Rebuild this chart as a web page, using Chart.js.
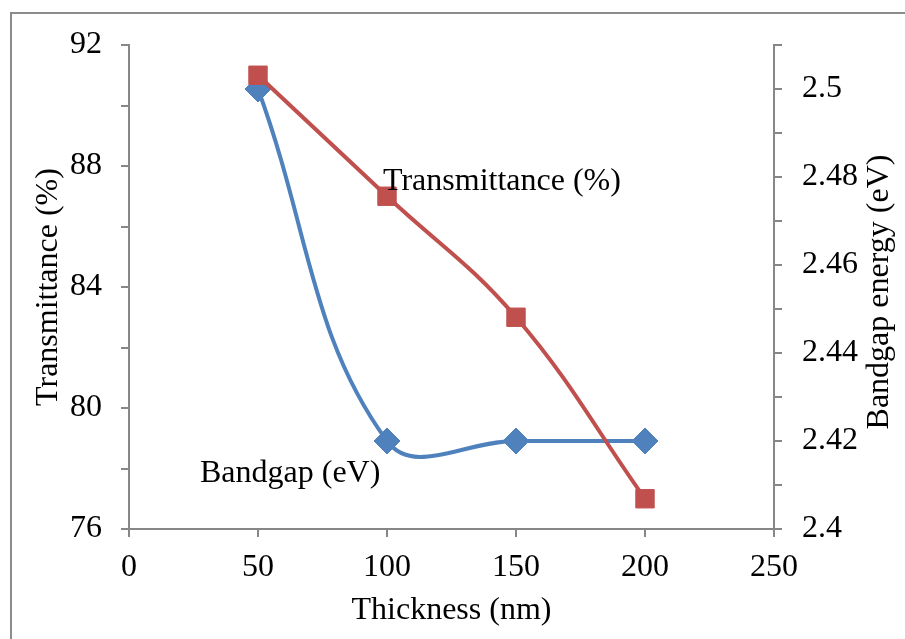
<!DOCTYPE html>
<html>
<head>
<meta charset="utf-8">
<script src="https://cdn.jsdelivr.net/npm/chart.js@4/dist/chart.umd.min.js"></script>
<style>
  html, body { margin: 0; padding: 0; background: #fff; }
  #wrap { position: absolute; left: 0; top: 0; width: 905px; height: 639px; }
</style>
</head>
<body>
<div id="wrap"><canvas id="c" width="905" height="639"></canvas></div>
<script>
// ---- data ----
const thickness = [50, 100, 150, 200];                 // nm
const transmittance = [91, 87, 83, 77];                // %
const bandgap = [2.50, 2.42, 2.42, 2.42];              // eV
const xTicks = [0, 50, 100, 150, 200, 250];
const leftTicks = [76, 80, 84, 88, 92];
const rightTicks = [2.4, 2.42, 2.44, 2.46, 2.48, 2.5];
const seriesNames = ['Transmittance (%)', 'Bandgap (eV)'];

const FONT = '"Liberation Serif", "Times New Roman", serif';
const AXIS_GREY = '#878787';

const framePlugin = {
  id: 'frame',
  beforeDraw(chart) {
    const ctx = chart.ctx;
    ctx.save();
    ctx.fillStyle = '#fff';
    ctx.fillRect(0, 0, chart.width, chart.height);
    ctx.strokeStyle = '#8c8c8c';
    ctx.lineWidth = 2;
    ctx.strokeRect(11, 13, chart.width + 20, chart.height + 20);
    ctx.restore();
  }
};

const textPlugin = {
  id: 'texts',
  afterDraw(chart) {
    const ctx = chart.ctx;
    const xs = chart.scales.x, yl = chart.scales.y, yr = chart.scales.y2;
    ctx.save();
    ctx.fillStyle = '#000';
    ctx.font = '32px ' + FONT;
    ctx.textBaseline = 'middle';
    ctx.textAlign = 'left';
    // series name labels attached near points
    const tX = xs.getPixelForValue(thickness[1]) - 4;
    const tY = yl.getPixelForValue(transmittance[1]) - 15;
    ctx.fillText(seriesNames[0], tX, tY);
    const bX = xs.getPixelForValue(thickness[1]) - 187;
    const bY = yr.getPixelForValue(bandgap[1]) + 33;
    ctx.fillText(seriesNames[1], bX, bY);
    // right axis title, reading bottom to top
    ctx.translate(880, (chart.chartArea.top + chart.chartArea.bottom) / 2 + 5);
    ctx.rotate(-Math.PI / 2);
    ctx.textAlign = 'center';
    ctx.fillText('Bandgap energy (eV)', 0, 0);
    ctx.restore();
  }
};

const gridOpts = {
  drawOnChartArea: false,
  drawTicks: true,
  tickLength: 8,
  color: AXIS_GREY,
  lineWidth: 2
};

new Chart(document.getElementById('c'), {
  type: 'line',
  data: {
    datasets: [
      {
        label: seriesNames[0],
        data: thickness.map((x, i) => ({ x, y: transmittance[i] })),
        yAxisID: 'y',
        borderColor: '#C0504D',
        backgroundColor: '#C0504D',
        borderWidth: 4,
        tension: 0.4,
        pointStyle: 'rect',
        pointRadius: 13,
        pointBorderWidth: 1,
        pointBorderColor: '#C0504D',
        pointBackgroundColor: '#C0504D'
      },
      {
        label: seriesNames[1],
        data: thickness.map((x, i) => ({ x, y: bandgap[i] })),
        yAxisID: 'y2',
        borderColor: '#4F81BD',
        backgroundColor: '#4F81BD',
        borderWidth: 4,
        tension: 0.4,
        pointStyle: 'rectRot',
        pointRadius: 13,
        pointBorderWidth: 1,
        pointBorderColor: '#4F81BD',
        pointBackgroundColor: '#4F81BD'
      }
    ]
  },
  options: {
    responsive: false,
    animation: false,
    devicePixelRatio: 1,
    layout: { padding: { top: 45, left: 0, right: 0, bottom: 0 } },
    plugins: { legend: { display: false }, tooltip: { enabled: false } },
    scales: {
      x: {
        type: 'linear',
        min: xTicks[0],
        max: xTicks[xTicks.length - 1],
        afterBuildTicks: s => { s.ticks = xTicks.map(v => ({ value: v })); },
        afterFit: s => { s.height = 110; },
        grid: gridOpts,
        border: { color: AXIS_GREY, width: 2 },
        ticks: { font: { family: FONT, size: 32 }, color: '#000', padding: 11 },
        title: {
          display: true, text: 'Thickness (nm)', color: '#000',
          font: { family: FONT, size: 32 }, padding: { top: 0, bottom: 9 }
        }
      },
      y: {
        type: 'linear',
        position: 'left',
        min: leftTicks[0],
        max: leftTicks[leftTicks.length - 1],
        afterBuildTicks: s => {
          const t = [];
          for (let v = leftTicks[0]; v <= leftTicks[leftTicks.length - 1]; v += 2) t.push({ value: v });
          s.ticks = t;
        },
        afterFit: s => { s.width = 129; },
        grid: gridOpts,
        border: { color: AXIS_GREY, width: 2 },
        ticks: {
          font: { family: FONT, size: 32 }, color: '#000', padding: 19,
          callback: v => leftTicks.includes(v) ? String(v) : ''
        },
        title: {
          display: true, text: 'Transmittance (%)', color: '#000',
          font: { family: FONT, size: 32 }, padding: { top: 29, bottom: 0 }
        }
      },
      y2: {
        type: 'linear',
        position: 'right',
        min: 2.4,
        max: 2.51,
        afterBuildTicks: s => {
          const t = [];
          for (let k = 240; k <= 251; k++) t.push({ value: k / 100 });
          s.ticks = t;
        },
        afterFit: s => { s.width = 131; },
        grid: gridOpts,
        border: { color: AXIS_GREY, width: 2 },
        ticks: {
          font: { family: FONT, size: 32 }, color: '#000', padding: 20,
          callback: v => {
            const k = Math.round(v * 100);
            return rightTicks.some(r => Math.round(r * 100) === k) ? String(k / 100) : '';
          }
        }
      }
    }
  },
  plugins: [framePlugin, textPlugin]
});
</script>
</body>
</html>
